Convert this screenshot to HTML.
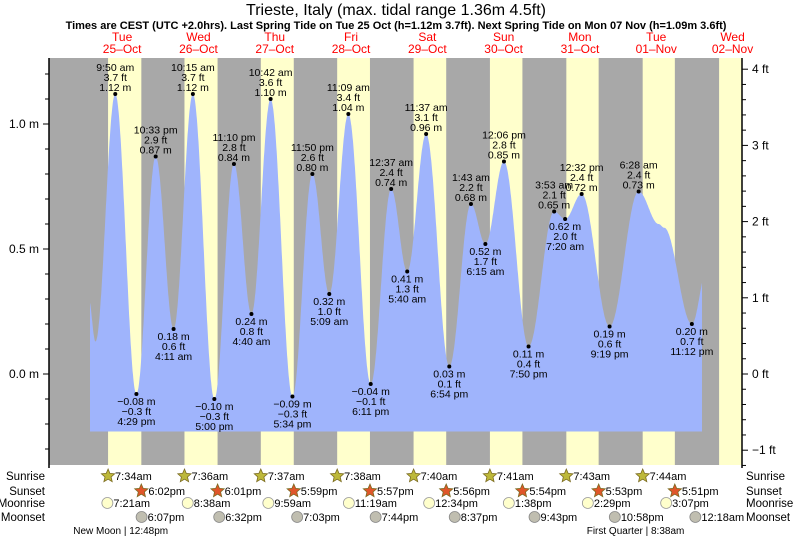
<!DOCTYPE html>
<html><head><meta charset="utf-8"><style>
body{margin:0;background:#fff;}
svg{display:block;font-family:"Liberation Sans",sans-serif;}
</style></head><body>
<svg id="chart" width="793" height="539" viewBox="0 0 793 539">
<text x="396" y="15" font-size="16" text-anchor="middle">Trieste, Italy (max. tidal range 1.36m 4.5ft)</text>
<text x="396" y="29" font-size="11" font-weight="bold" text-anchor="middle">Times are CEST (UTC +2.0hrs). Last Spring Tide on Tue 25 Oct (h=1.12m 3.7ft). Next Spring Tide on Mon 07 Nov (h=1.09m 3.6ft)</text>
<g id="g"></g>
</svg>
<script>
// ---- data ----
const dayNames = ["Tue","Wed","Thu","Fri","Sat","Sun","Mon","Tue","Wed"];
const dayDates = ["25\u2013Oct","26\u2013Oct","27\u2013Oct","28\u2013Oct","29\u2013Oct","30\u2013Oct","31\u2013Oct","01\u2013Nov","02\u2013Nov"];
// hours since 25-Oct 00:00
const tideTimes = [1.5, 3.6, 9.833, 16.483, 22.55, 28.183, 34.25, 41.0, 47.167, 52.667, 58.7, 65.567, 71.833, 77.15, 83.15, 90.183, 96.617, 101.667, 107.617, 114.9, 121.717, 126.25, 132.1, 139.833, 147.883, 151.333, 156.533, 165.317, 174.467, 180.75, 182.5, 191.2, 196];
const tideHeights = [0.30, 0.13, 1.12, -0.08, 0.87, 0.18, 1.12, -0.10, 0.84, 0.24, 1.10, -0.09, 0.80, 0.32, 1.04, -0.04, 0.74, 0.41, 0.96, 0.03, 0.68, 0.52, 0.85, 0.11, 0.65, 0.62, 0.72, 0.19, 0.73, 0.60, 0.585, 0.20, 0.42];
const tideLabels = ["", "", "9:50 am", "4:29 pm", "10:33 pm", "4:11 am", "10:15 am", "5:00 pm", "11:10 pm", "4:40 am", "10:42 am", "5:34 pm", "11:50 pm", "5:09 am", "11:09 am", "6:11 pm", "12:37 am", "5:40 am", "11:37 am", "6:54 pm", "1:43 am", "6:15 am", "12:06 pm", "7:50 pm", "3:53 am", "7:20 am", "12:32 pm", "9:19 pm", "6:28 am", "", "", "11:12 pm", ""];
const tideFeet = ["", "", "3.7", "\u22120.3", "2.9", "0.6", "3.7", "\u22120.3", "2.8", "0.8", "3.6", "\u22120.3", "2.6", "1.0", "3.4", "\u22120.1", "2.4", "1.3", "3.1", "0.1", "2.2", "1.7", "2.8", "0.4", "2.1", "2.0", "2.4", "0.6", "2.4", "", "", "0.7", ""];
const tideStart = 1.9, tideEnd = 194.4;
const sunriseHours = [7.567, 31.6, 55.617, 79.633, 103.667, 127.683, 151.717, 175.733, 199.767];
const sunsetHours = [18.033, 42.017, 65.983, 89.95, 113.933, 137.9, 161.883, 185.85, 209.83];
const sunriseText = ["7:34am","7:36am","7:37am","7:38am","7:40am","7:41am","7:43am","7:44am"];
const sunsetText = ["6:02pm","6:01pm","5:59pm","5:57pm","5:56pm","5:54pm","5:53pm","5:51pm"];
const moonriseHours = [7.35, 32.633, 57.983, 83.317, 108.567, 133.633, 158.483, 183.117];
const moonriseText = ["7:21am","8:38am","9:59am","11:19am","12:34pm","1:38pm","2:29pm","3:07pm"];
const moonsetHours = [18.117, 42.533, 67.05, 91.733, 116.617, 141.717, 166.967, 192.3];
const moonsetText = ["6:07pm","6:32pm","7:03pm","7:44pm","8:37pm","9:43pm","10:58pm","12:18am"];
const phaseHours = [12.8, 176.633];
const phaseText = ["New Moon | 12:48pm","First Quarter | 8:38am"];
const mTicks = ["0.0 m","0.5 m","1.0 m"];
const mTickVals = [0, 0.5, 1.0];
const ftTickVals = [-1, 0, 1, 2, 3, 4];

// ---- axes ----
const X0 = 84, PXH = 76.3/24;
const PL = 49, PR = 742, PT = 58, PB = 465;
function xT(t){ return X0 + t*PXH; }
function yM(h){ return 374 - h*250; }
const NS = "http://www.w3.org/2000/svg";
const g = document.getElementById('g');
function el(tag, attrs, parent){ const e = document.createElementNS(NS, tag); for (const k in attrs) e.setAttribute(k, attrs[k]); (parent||g).appendChild(e); return e; }
function txt(x, y, s, size, anchor, fill, parent){ const e = el('text', {x:x, y:y, 'font-size':size, 'text-anchor':anchor, fill:fill||'#000'}, parent); e.textContent = s; return e; }

const bg = el('rect', {x:PL, y:PT, width:PR-PL, height:PB-PT, fill:'#a8a8a8'});


for (let i = 0; i < sunriseHours.length; i++) {
  const x1 = Math.max(PL, xT(sunriseHours[i])), x2 = Math.min(PR, xT(sunsetHours[i]));
  if (x2 <= x1) continue;
  const r = el('rect', {x:x1, y:PT, width:x2-x1, height:PB-PT, fill:'#ffffcc'});
  
  
}

for (let i = 0; i < dayNames.length; i++) {
  const x = xT(i*24 + 12);
  const a = txt(x, 41, dayNames[i], 12, 'middle', '#ff0000');
  
  
  const b = txt(x, 53, dayDates[i], 12, 'middle', '#ff0000');
  
  
}

function hAt(t){
  for (let i = 0; i < tideTimes.length-1; i++) {
    if (t >= tideTimes[i] && t <= tideTimes[i+1]) {
      const f = (t - tideTimes[i])/(tideTimes[i+1]-tideTimes[i]);
      return tideHeights[i] + (tideHeights[i+1]-tideHeights[i])*(1-Math.cos(Math.PI*f))/2;
    }
  }
  return tideHeights[tideHeights.length-1];
}
const yBase = yM(-0.23);
let d = 'M' + xT(tideStart).toFixed(1) + ',' + yBase;
for (let t = tideStart; t <= tideEnd; t += 0.1) d += ' L' + xT(t).toFixed(1) + ',' + yM(hAt(t)).toFixed(1);
d += ' L' + xT(tideEnd).toFixed(1) + ',' + yM(hAt(tideEnd)).toFixed(1) + ' L' + xT(tideEnd).toFixed(1) + ',' + yBase + ' Z';
const area = el('path', {d:d, fill:'#9fb4fc'});



for (let i = 0; i < tideTimes.length; i++) {
  if (!tideLabels[i]) continue;
  const x = xT(tideTimes[i]), y = yM(tideHeights[i]);
  const isHigh = (i === 0 || tideHeights[i] > tideHeights[i-1]);
  const dot = el('circle', {cx:x, cy:y, r:2, fill:'#000'});
  
  
  const mStr = (tideHeights[i] < 0 ? '\u2212' + Math.abs(tideHeights[i]).toFixed(2) : tideHeights[i].toFixed(2)) + ' m';
  const lines = isHigh ? [tideLabels[i], tideFeet[i] + ' ft', mStr] : [mStr, tideFeet[i] + ' ft', tideLabels[i]];
  const ys = isHigh ? [y-23, y-13, y-3] : [y+11, y+21, y+31];
  for (let k = 0; k < 3; k++) {
    const lt = txt(x, ys[k], lines[k], 10.5, 'middle', '#000');
    
    
  }
}

const la = el('line', {x1:PL, y1:PT, x2:PL, y2:PB+3, stroke:'#000', 'stroke-width':1.5});


const ra = el('line', {x1:PR, y1:PT, x2:PR, y2:PB+3, stroke:'#000', 'stroke-width':1.5});


for (let v = -3; v <= 12; v++) {
  const y = yM(v/10);
  const major = (v % 5 === 0);
  el('line', {x1:PL-(major?6:4), y1:y, x2:PL, y2:y, stroke:'#000', 'stroke-width':1});
}
for (let i = 0; i < mTickVals.length; i++) {
  const t = txt(PL-10, yM(mTickVals[i])+4, mTicks[i], 12, 'end', '#000');
  
  
}
for (let v = -6; v <= 20; v++) {
  const y = yM(v*0.2*0.3048);
  if (y < PT || y > PB+1) continue;
  const major = (v % 5 === 0);
  el('line', {x1:PR, y1:y, x2:PR+(major?6:4), y2:y, stroke:'#000', 'stroke-width':1});
}
for (let i = 0; i < ftTickVals.length; i++) {
  const v = ftTickVals[i];
  const t = txt(PR+10, yM(v*0.3048)+4, (v < 0 ? '\u2212' + Math.abs(v) : v) + ' ft', 12, 'start', '#000');
  
  
}

const rowNames = ["Sunrise","Sunset","Moonrise","Moonset"], rowY = [480, 495, 507, 521];
for (let r = 0; r < 4; r++) {
  const a = txt(45, rowY[r], rowNames[r], 11.5, 'end', '#000');
  
  
  const b = txt(746, rowY[r], rowNames[r], 11.5, 'start', '#000');
  
  
}
function star(cx, cy, fill){
  let p = '';
  for (let k = 0; k < 10; k++) {
    const rad = k % 2 ? 3.2 : 7, ang = -Math.PI/2 + k*Math.PI/5;
    p += (k ? 'L' : 'M') + (cx + rad*Math.cos(ang)).toFixed(1) + ',' + (cy + rad*Math.sin(ang)).toFixed(1);
  }
  return el('path', {d:p+'Z', fill:fill, stroke:'#7a6a20', 'stroke-width':0.8});
}
for (let i = 0; i < sunriseText.length; i++) {
  const x = xT(sunriseHours[i]);
  const s = star(x, rowY[0]-4, '#bdb83a');
  
  
  const t = txt(x+7, rowY[0], sunriseText[i], 11, 'start', '#000');
  
  
  const x2 = xT(sunsetHours[i]);
  const s2 = star(x2, rowY[1]-4, '#e0562a');
  
  
  const t2 = txt(x2+7, rowY[1], sunsetText[i], 11, 'start', '#000');
  
  
}
for (let i = 0; i < moonriseText.length; i++) {
  const x = xT(moonriseHours[i]);
  const c = el('circle', {cx:x, cy:rowY[2]-4, r:5.5, fill:'#ffffcc', stroke:'#999', 'stroke-width':0.8});
  
  
  const t = txt(x+6, rowY[2], moonriseText[i], 11, 'start', '#000');
  
  
  const x2 = xT(moonsetHours[i]);
  const c2 = el('circle', {cx:x2, cy:rowY[3]-4, r:5.5, fill:'#c0beb0', stroke:'#888', 'stroke-width':0.8});
  
  
  const t2 = txt(x2+6, rowY[3], moonsetText[i], 11, 'start', '#000');
  
  
}
for (let i = 0; i < phaseText.length; i++) {
  const t = txt(xT(phaseHours[i]) - (i ? 10 : 4), 534, phaseText[i], 10, 'middle', '#000');
  
  
}
</script>
</body></html>
